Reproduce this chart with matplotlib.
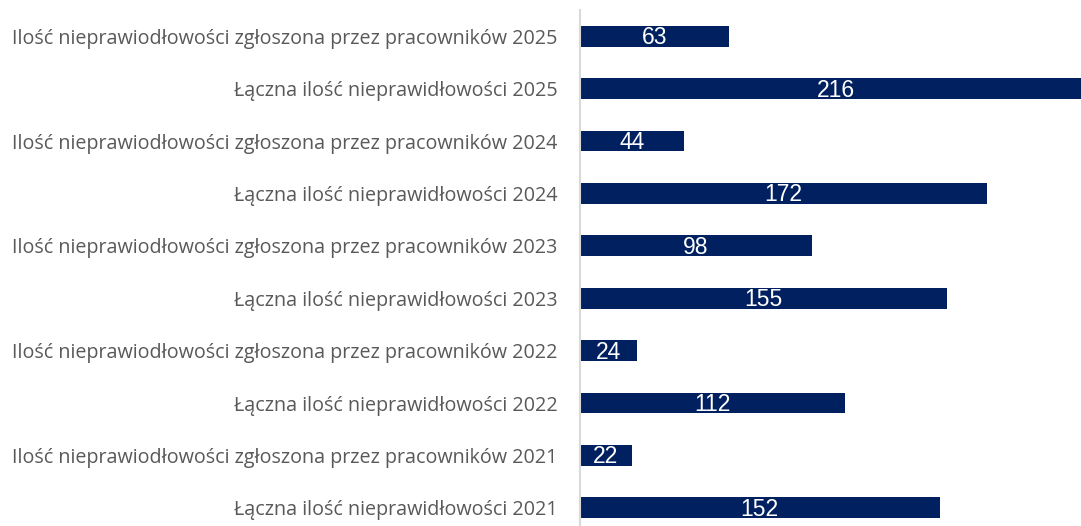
import matplotlib.pyplot as plt

categories = [
    "Ilość nieprawiodłowości zgłoszona przez pracowników 2025",
    "Łączna ilość nieprawidłowości 2025",
    "Ilość nieprawiodłowości zgłoszona przez pracowników 2024",
    "Łączna ilość nieprawidłowości 2024",
    "Ilość nieprawiodłowości zgłoszona przez pracowników 2023",
    "Łączna ilość nieprawidłowości 2023",
    "Ilość nieprawiodłowości zgłoszona przez pracowników 2022",
    "Łączna ilość nieprawidłowości 2022",
    "Ilość nieprawiodłowości zgłoszona przez pracowników 2021",
    "Łączna ilość nieprawidłowości 2021",
]
values = [63, 216, 44, 172, 98, 155, 24, 112, 22, 152]

plt.rcParams['font.family'] = ['Open Sans', 'DejaVu Sans']

fig = plt.figure(figsize=(10.81, 5.26), dpi=100)
ax = fig.add_axes([0.5365, -8/526, 1 - 0.5365, 524/526])

ypos = list(range(len(values)))
bars = ax.barh(ypos, values, height=0.4, color="#002060")
ax.set_ylim(len(values) - 0.5, -0.5)
ax.set_xlim(0, 211.8)

ax.set_yticks(ypos)
ax.set_yticklabels(categories, fontsize=14.2, color="#595959")
ax.tick_params(axis='y', length=0, pad=16)
ax.set_xticks([])

for s in ["top", "right", "bottom"]:
    ax.spines[s].set_visible(False)
ax.spines["left"].set_color("#d9d9d9")
ax.spines["left"].set_linewidth(1.5)

for b, v in zip(bars, values):
    ax.text(v / 2, b.get_y() + b.get_height() / 2 + 0.03, str(v), ha="center", va="center",
            color="white", fontsize=16.5, family=['Liberation Sans', 'DejaVu Sans'])

fig.savefig("out.png", dpi=100)
